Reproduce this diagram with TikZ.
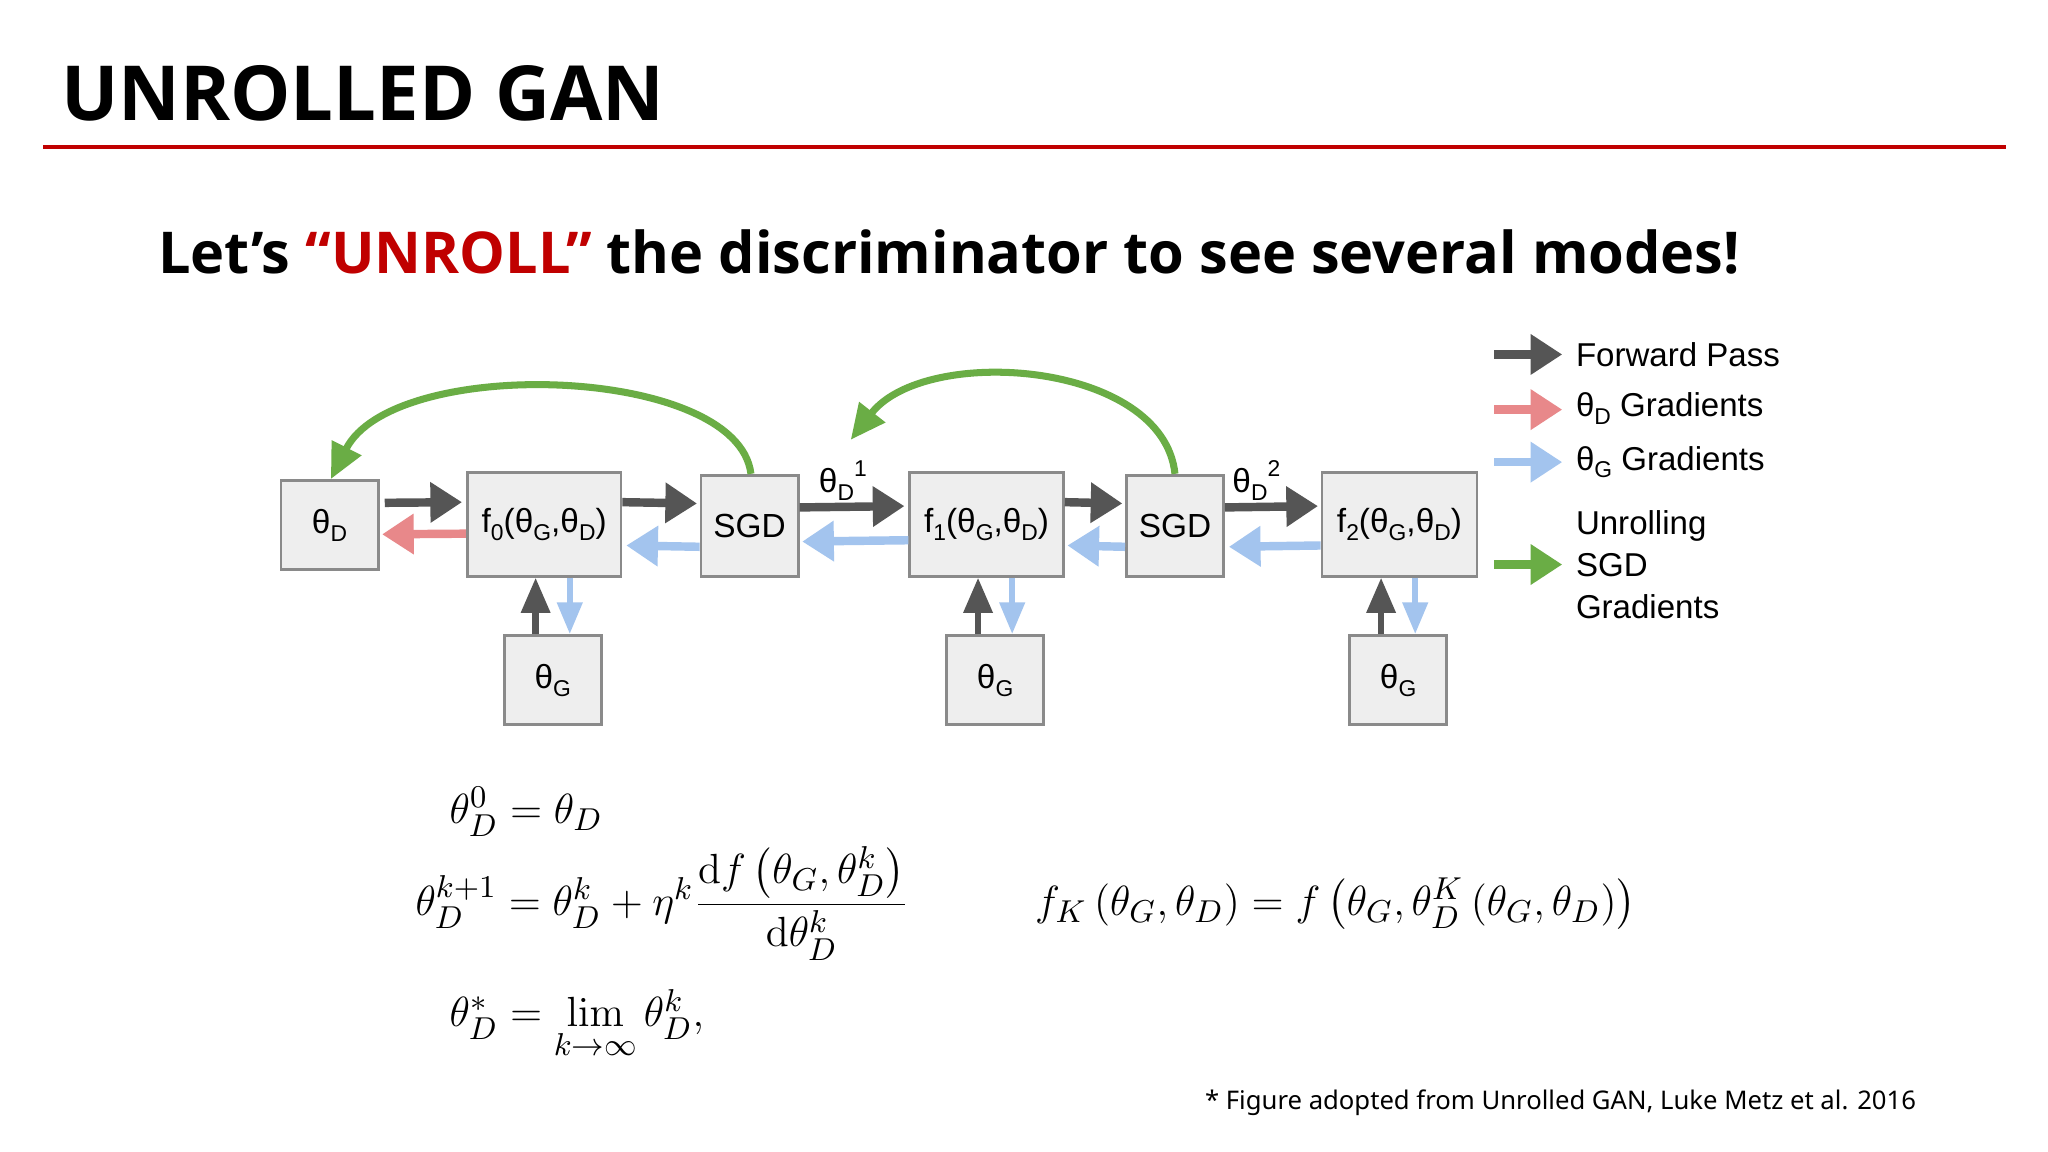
\documentclass[tikz,border=0pt]{standalone}
\usepackage{amsmath}
\usepackage[no-math]{fontspec}
\setmainfont{Liberation Sans}
\newfontfamily\titlefont{Open Sans}
\newfontfamily\notefont{Noto Sans}
\usetikzlibrary{arrows.meta}
\def\U{0.01313}
\definecolor{fwd}{HTML}{555555}
\definecolor{redg}{HTML}{E8888A}
\definecolor{blueg}{HTML}{A3C4EE}
\definecolor{greeng}{HTML}{6AAD45}
\definecolor{boxfill}{HTML}{EEEEEE}
\definecolor{boxline}{HTML}{8A8A8A}
\definecolor{titlered}{HTML}{C00000}
\tikzset{
  bx/.style={draw=boxline, fill=boxfill, line width=0.8pt, inner sep=0pt, font=\fontsize{9.5}{12}\selectfont},
  fw/.style={draw=fwd, line width=2.4pt, -{Triangle[length=9pt,width=11pt]}},
  rg/.style={draw=redg, line width=2.4pt, -{Triangle[length=9pt,width=11pt]}},
  bg/.style={draw=blueg, line width=2.4pt, -{Triangle[length=9pt,width=11pt]}},
  bgv/.style={draw=blueg, line width=1.6pt, -{Triangle[length=9pt,width=7pt]}},
  fwv/.style={draw=fwd, line width=1.8pt, -{Triangle[length=10pt,width=8pt]}},
  gr/.style={draw=greeng, line width=2pt, -{Triangle[length=10pt,width=9pt]}},
  lg/.style={anchor=west, font=\fontsize{9.4}{12}\selectfont},
  eq/.style={anchor=base west, inner sep=0, font=\fontsize{13}{16}\selectfont},
}
\newcommand\sbd[1]{\raisebox{-0.45ex}{\fontsize{6.5}{7}\selectfont #1}}
\newcommand\spd[1]{\raisebox{0.9ex}{\fontsize{6.5}{7}\selectfont #1}}
\begin{document}
\begin{tikzpicture}[x=\U cm, y=-\U cm]
\fill[white] (0,0) rectangle (1560,877.4);
\useasboundingbox (0,0) rectangle (1560,877.4);
% title
\node[anchor=base west, inner sep=0, font=\titlefont\bfseries\fontsize{21.6}{25}\selectfont] (title) at (46,92) {UNROLLED GAN};
\draw[titlered, line width=1.2pt] (33,112) -- (1528,112);
\node[anchor=base west, inner sep=0, font=\titlefont\bfseries\fontsize{16.4}{20}\selectfont] (sub) at (120,208) {Let’s \textcolor{titlered}{“UNROLL”} the discriminator to see several modes!};
% boxes
\node[bx, minimum width=74*\U cm, minimum height=68*\U cm] (tD) at (251,400) {θ\sbd{D}};
\node[bx, minimum width=117*\U cm, minimum height=79*\U cm] (f0) at (414.5,399.5) {f\sbd{0}(θ\sbd{G},θ\sbd{D})};
\node[bx, minimum width=74*\U cm, minimum height=77*\U cm] (s1) at (571,400.5) {SGD};
\node[bx, minimum width=117*\U cm, minimum height=79*\U cm] (f1) at (751.5,399.5) {f\sbd{1}(θ\sbd{G},θ\sbd{D})};
\node[bx, minimum width=74*\U cm, minimum height=77*\U cm] (s2) at (895,400.5) {SGD};
\node[bx, minimum width=118*\U cm, minimum height=79*\U cm] (f2) at (1066,399.5) {f\sbd{2}(θ\sbd{G},θ\sbd{D})};
\node[bx, minimum width=74*\U cm, minimum height=68*\U cm] (g0) at (421,518) {θ\sbd{G}};
\node[bx, minimum width=74*\U cm, minimum height=68*\U cm] (g1) at (758,518) {θ\sbd{G}};
\node[bx, minimum width=74*\U cm, minimum height=68*\U cm] (g2) at (1065,518) {θ\sbd{G}};
% forward
\draw[fw] ([xshift=4*\U cm, yshift=17*\U cm]tD.east) -- ([xshift=-3*\U cm, yshift=17*\U cm]f0.west);
\draw[fw] ([yshift=17*\U cm]f0.east) -- ([xshift=-2*\U cm, yshift=17*\U cm]s1.west);
\draw[fw] ([yshift=14*\U cm]s1.east) -- ([xshift=-3*\U cm, yshift=14*\U cm]f1.west);
\draw[fw] ([yshift=17*\U cm]f1.east) -- ([xshift=-2*\U cm, yshift=17*\U cm]s2.west);
\draw[fw] ([yshift=14*\U cm]s2.east) -- ([xshift=-2*\U cm, yshift=14*\U cm]f2.west);
% gradients
\draw[rg] ([yshift=-7*\U cm]f0.west) -- ([xshift=2*\U cm, yshift=-7*\U cm]tD.east);
\draw[bg] ([yshift=-16*\U cm]s1.west) -- ([xshift=3*\U cm, yshift=-16*\U cm]f0.east);
\draw[bg] ([yshift=-12*\U cm]f1.west) -- ([xshift=2*\U cm, yshift=-12*\U cm]s1.east);
\draw[bg] ([yshift=-16*\U cm]s2.west) -- ([xshift=2*\U cm, yshift=-16*\U cm]f1.east);
\draw[bg] ([yshift=-16*\U cm]f2.west) -- ([xshift=3*\U cm, yshift=-16*\U cm]s2.east);
% verticals
\foreach \g/\f in {g0/f0, g1/f1, g2/f2}{
  \draw[fwv] ([xshift=-13*\U cm]\g.north) -- ([xshift=-13*\U cm]\g.north |- \f.south);
  \draw[bgv] ([xshift=13*\U cm]\g.north |- \f.south) -- ([xshift=13*\U cm]\g.north);
}
% labels
\node[font=\fontsize{9.5}{12}\selectfont] (l1) at (642,366) {θ\sbd{D}\spd{1}};
\node[font=\fontsize{9.5}{12}\selectfont] (l2) at (957,366) {θ\sbd{D}\spd{2}};
% green curves
\draw[gr] ([xshift=1*\U cm]s1.north) .. controls (562,278) and (300,270) .. ([xshift=1*\U cm]tD.north);
\coordinate (g2end) at (648,335);
\draw[gr] (s2.north) .. controls (886,275) and (705,262) .. (g2end);
% legend
\coordinate (la1) at (1138,270); \coordinate (lb1) at (1190,270);
\coordinate (la2) at (1138,312); \coordinate (lb2) at (1190,312);
\coordinate (la3) at (1138,352); \coordinate (lb3) at (1190,352);
\coordinate (la4) at (1138,430); \coordinate (lb4) at (1190,430);
\draw[fw] (la1) -- (lb1);
\draw[rg] (la2) -- (lb2);
\draw[bg] (la3) -- (lb3);
\draw[draw=greeng, line width=2.4pt, -{Triangle[length=9pt,width=11pt]}] (la4) -- (lb4);
\node[lg] (t1) at (1191,270) {Forward Pass};
\node[lg] (t2) at (1191,311) {θ\sbd{D} Gradients};
\node[lg] (t3) at (1191,352) {θ\sbd{G} Gradients};
\node[lg, align=left] (t4) at (1191,430) {Unrolling\\SGD\\Gradients};
% equations
\node[eq] (e1) at (342,627) {$\theta_D^0 = \theta_D$};
\node[eq] (e2) at (316,697) {$\theta_D^{k+1} = \theta_D^k + \eta^k\dfrac{\mathrm{d}f\left(\theta_G,\theta_D^k\right)}{\mathrm{d}\theta_D^k}$};
\node[eq] (e3) at (342,782) {$\theta_D^{*} = \lim\limits_{k\to\infty}\theta_D^k,$};
\node[eq] (e4) at (788,697) {$f_K\left(\theta_G,\theta_D\right) = f\left(\theta_G,\theta_D^K\left(\theta_G,\theta_D\right)\right)$};
% footnote
\node[anchor=base east, inner sep=0, font=\notefont\fontsize{7.3}{9}\selectfont] (fn) at (1460,845) {* Figure adopted from Unrolled GAN, Luke Metz et al. 2016};
\end{tikzpicture}
\end{document}
